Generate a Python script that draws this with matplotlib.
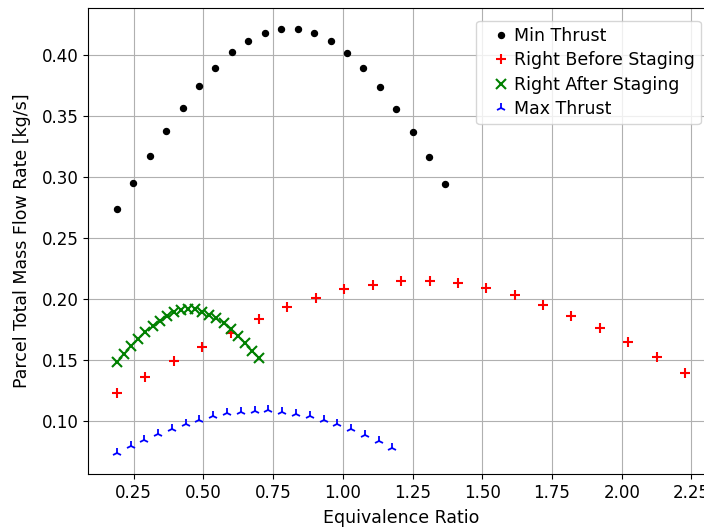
###* Flujo másico total de parcelas vs razón de equivalencia *###

#- Importar paqueterias -#
import matplotlib
matplotlib.use("Agg")
import matplotlib.pyplot as plt     # Paquetería para visualización.

#- Datos -#
# Min Thrust
phi_min = [0.190, 0.249, 0.308, 0.367, 0.426, 0.485, 0.543, 0.602, 0.661, 0.720, 0.779,
           0.838, 0.897, 0.956, 1.015, 1.074, 1.132, 1.191, 1.250, 1.309, 1.368]
mdot_min = [0.2737, 0.2954, 0.3170, 0.3378, 0.3567, 0.3745, 0.3893, 0.4022, 0.4115, 0.4181, 0.4214,
            0.4214, 0.4181, 0.4113, 0.4014, 0.3891, 0.3737, 0.3562, 0.3367, 0.3162, 0.2942]

# Right Before Staging
phi_antes = [0.190, 0.292, 0.394, 0.496, 0.598, 0.700, 0.801, 0.903, 1.005, 1.107, 1.209,
             1.311, 1.413, 1.515, 1.617, 1.719, 1.820, 1.922, 2.024, 2.126, 2.228]
mdot_antes = [0.1228, 0.1359, 0.1491, 0.1611, 0.1726, 0.1836, 0.1935, 0.2011, 0.2079, 0.2118, 0.2146,
              0.2148, 0.2128, 0.2090, 0.2033, 0.1955, 0.1865, 0.1764, 0.1647, 0.1526, 0.1394]

# Right After Staging
phi_despues = [0.190, 0.216, 0.241, 0.267, 0.292, 0.318, 0.343, 0.369, 0.394, 0.420, 0.445,
               0.471, 0.496, 0.522, 0.547, 0.573, 0.598, 0.624, 0.649, 0.675, 0.700]
mdot_despues = [0.1487, 0.1553, 0.1616, 0.1676, 0.1731, 0.1783, 0.1824, 0.1863, 0.1893, 0.1912, 0.1920,
                0.1915, 0.1898, 0.1873, 0.1841, 0.1800, 0.1753, 0.1698, 0.1638, 0.1578, 0.1520]

# Max Thrust
phi_max = [0.190, 0.239, 0.289, 0.338, 0.388, 0.437, 0.486, 0.536, 0.585, 0.635, 0.684,
           0.733, 0.783, 0.832, 0.882, 0.931, 0.980, 1.030, 1.079, 1.129, 1.178]
mdot_max = [0.0740, 0.0795, 0.0841, 0.0890, 0.0931, 0.0977, 0.1008, 0.1043, 0.1063, 0.1076, 0.1084,
            0.1088, 0.1076, 0.1060, 0.1038, 0.1010, 0.0973, 0.0931, 0.0884, 0.0835, 0.0780]

#- Visualización de los datos -#
fig = plt.figure(figsize=(7.04, 5.27), dpi=100)
ax = fig.add_axes([0.1256, 0.1006, 0.8882, 0.8846])   # El eje sale por la derecha (imagen recortada).

ax.plot(phi_min, mdot_min, 'o', color='black', markersize=4.3, label='Min Thrust')
ax.plot(phi_antes, mdot_antes, '+', color='red', markersize=7.5, markeredgewidth=1.5,
        label='Right Before Staging')
ax.plot(phi_despues, mdot_despues, 'x', color='green', markersize=6.8, markeredgewidth=1.5,
        label='Right After Staging')
ax.plot(phi_max, mdot_max, '2', color='blue', markersize=6.5, markeredgewidth=1.3,
        label='Max Thrust')

ax.grid(True)                                       # Malla de la gráfica.
ax.set_xticks([0.25, 0.50, 0.75, 1.00, 1.25, 1.50, 1.75, 2.00, 2.25])
ax.tick_params(labelsize=12)
ax.set_xlabel("Equivalence Ratio", fontsize=12.5, labelpad=5)     # Etiqueta del eje "x".
ax.set_ylabel("Parcel Total Mass Flow Rate [kg/s]", fontsize=12.5, labelpad=8)   # Etiqueta del eje "y".
ax.legend(loc='upper right', fontsize=12.5, labelspacing=0.37, borderpad=0.35,
          handlelength=2.18, handletextpad=-0.37, borderaxespad=0.75)

fig.savefig("out.png", dpi=100)
